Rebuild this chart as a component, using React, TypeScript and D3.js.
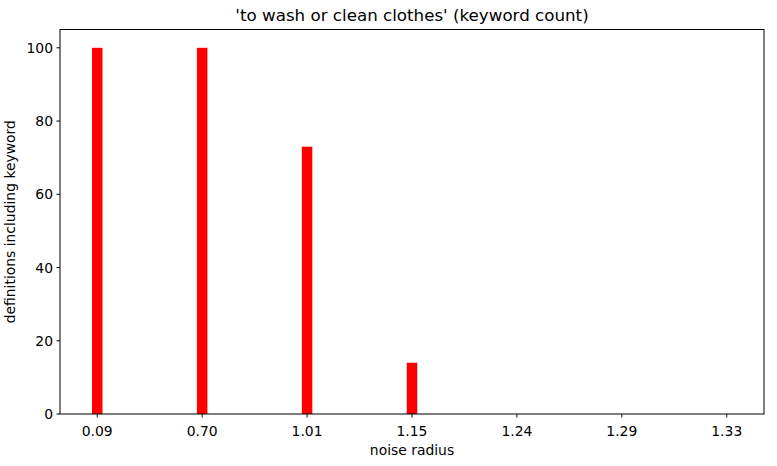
import React from "react";
import * as d3 from "d3";

const categories = ["0.09", "0.70", "1.01", "1.15", "1.24", "1.29", "1.33"];
const counts = [100, 100, 73, 14, 0, 0, 0];
const yTicks = [0, 20, 40, 60, 80, 100];
const title = "'to wash or clean clothes' (keyword count)";
const xLabel = "noise radius";
const yLabel = "definitions including keyword";

export default function App() {
  const W = 777, H = 466;
  const left = 60, right = 764, top = 29.5, bottom = 414;
  const x = d3.scaleLinear().domain([-0.355, categories.length - 1 + 0.355]).range([left, right]);
  const y = d3.scaleLinear().domain([0, 105]).range([bottom, top]);
  const bw = 0.1;
  const font = "DejaVu Sans, sans-serif";
  return (
    <svg width={W} height={H} style={{ position: "absolute", left: 0, top: 0 }} fontFamily={font}>
      <rect x={0} y={0} width={W} height={H} fill="#fff" />
      {counts.map((v, i) => (
        <rect key={i} x={x(i - bw / 2)} y={y(v)} width={x(i + bw / 2) - x(i - bw / 2)} height={y(0) - y(v)} fill="#ff0000" />
      ))}
      <rect x={left} y={top} width={right - left} height={bottom - top} fill="none" stroke="#000" strokeWidth={1} />
      {categories.map((c, i) => (
        <g key={c} transform={`translate(${x(i)},${bottom})`}>
          <line y1={0} y2={3.5} stroke="#000" />
          <text y={18} textAnchor="middle" fontSize={13.9} dominantBaseline="middle">{c}</text>
        </g>
      ))}
      {yTicks.map((t) => (
        <g key={t} transform={`translate(${left},${y(t)})`}>
          <line x1={0} x2={-3.5} stroke="#000" />
          <text x={-7} textAnchor="end" fontSize={13.9} dominantBaseline="central">{t}</text>
        </g>
      ))}
      <text x={(left + right) / 2} y={455} textAnchor="middle" fontSize={13.9}>{xLabel}</text>
      <text transform={`translate(15,${(top + bottom) / 2}) rotate(-90)`} textAnchor="middle" fontSize={13.9}>{yLabel}</text>
      <text x={(left + right) / 2} y={21} textAnchor="middle" fontSize={16.7}>{title}</text>
    </svg>
  );
}
